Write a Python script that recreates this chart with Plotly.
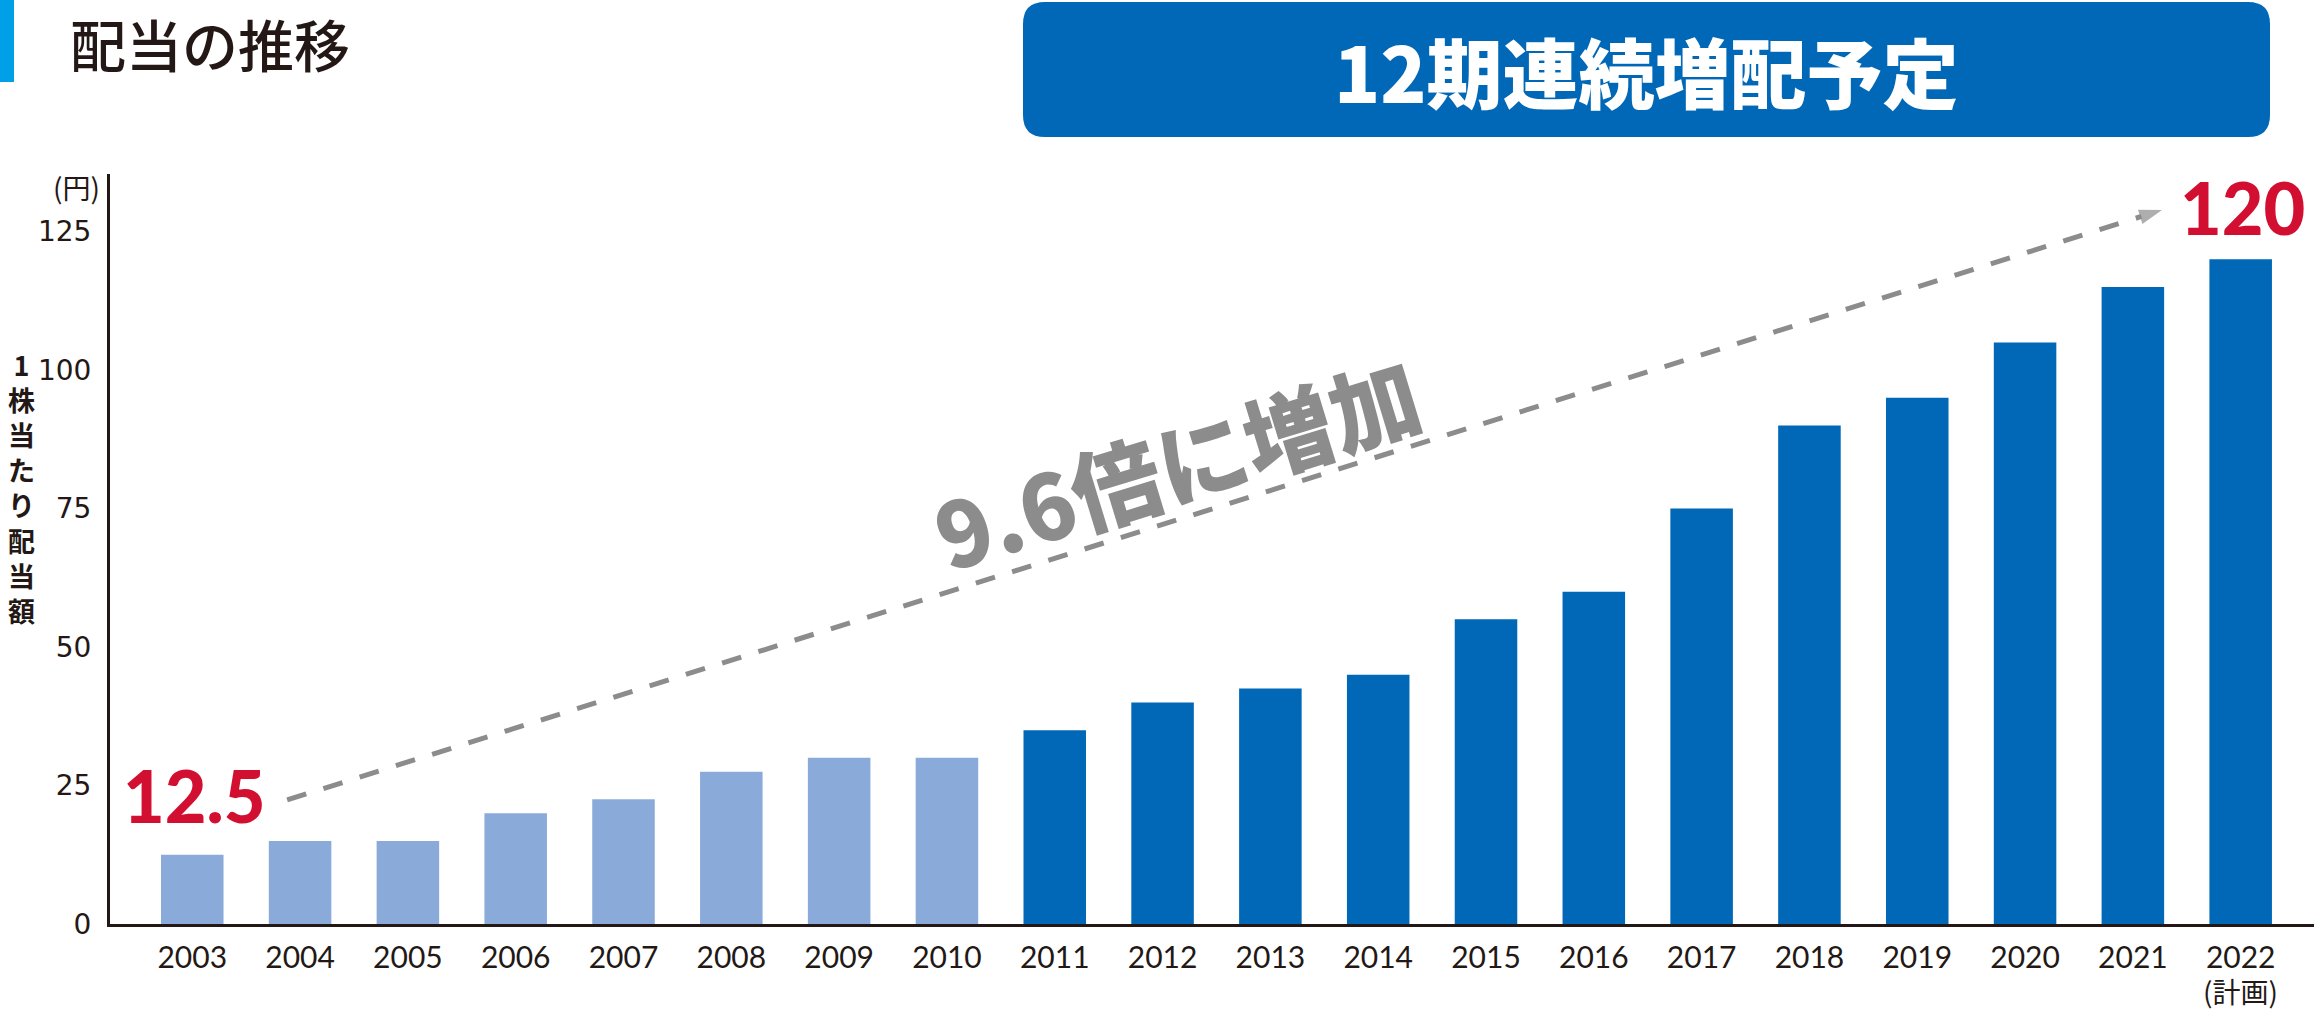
import plotly.graph_objects as go

years = [2003, 2004, 2005, 2006, 2007, 2008, 2009, 2010, 2011, 2012,
         2013, 2014, 2015, 2016, 2017, 2018, 2019, 2020, 2021, 2022]
dividends = [12.5, 15, 15, 20, 22.5, 27.5, 30, 30, 35, 40,
             42.5, 45, 55, 60, 75, 90, 95, 105, 115, 120]
tick_labels = [str(y) for y in years]
plan_note = "(計画)"
y_ticks = [0, 25, 50, 75, 100, 125]
y_title_chars = ["1", "株", "当", "た", "り", "配", "当", "額"]

LIGHT = "#8AABDA"
DARK = "#0068B6"
RED = "#D20F31"
GRAY = "#8C8C8C"
INK = "#231815"
CJK = "Noto Sans CJK JP"
NUM = "Lato, Noto Sans CJK JP"

bar_colors = [LIGHT if y <= 2010 else DARK for y in years]

# plot area in pixels
L, R, T, B = 110, 2314, 174, 924
def px(x):
    return (x - L) / (R - L)
def py(y):
    return (B - y) / (B - T)

fig = go.Figure()
fig.add_trace(go.Bar(
    x=years, y=dividends, width=0.58,
    marker=dict(color=bar_colors, line=dict(width=0)),
    hoverinfo="x+y", showlegend=False,
))

# dashed trend arrow
arrow_x = [2003.88, 2021.27]
arrow_y = [22.4, 128.9]
fig.add_trace(go.Scatter(
    x=arrow_x, y=arrow_y, mode="lines+markers",
    line=dict(color=GRAY, width=5, dash="20px,18px"),
    marker=dict(symbol="arrow", size=[0, 24], color=GRAY, angleref="previous",
                line=dict(width=0)),
    hoverinfo="skip", showlegend=False,
))

fig.update_layout(
    width=2314, height=1013,
    margin=dict(l=L, r=2314 - R, t=T, b=1013 - B),
    paper_bgcolor="white", plot_bgcolor="white",
    font=dict(family=NUM, color=INK),
    xaxis=dict(
        range=[2002.237, 2022.68], tickvals=years, ticktext=tick_labels,
        showgrid=False, zeroline=False, showline=True, linecolor=INK, linewidth=3,
        ticks="", tickfont=dict(size=30, family=NUM, color=INK),
        ticklabelstandoff=5, fixedrange=True, automargin=False,
    ),
    yaxis=dict(
        range=[0, 135.4], tickvals=y_ticks,
        showgrid=False, zeroline=False, showline=True, linecolor=INK, linewidth=3,
        ticks="", tickfont=dict(size=28, family="DejaVu Sans", color=INK),
        ticklabelstandoff=10, fixedrange=True, automargin=False,
    ),
    shapes=[
        dict(type="rect", xref="paper", yref="paper",
             x0=px(0), x1=px(14), y0=py(82), y1=py(0),
             fillcolor="#00A0E9", line=dict(width=0), layer="above"),
    ],
)

# rounded title box
bx0, bx1, by0, by1 = 1023, 2270, 2, 137
r = 22
rx = r / (R - L)
ry = r / (B - T)
X0, X1, Ytop, Ybot = px(bx0), px(bx1), py(by0), py(by1)
path = (f"M {X0+rx},{Ytop} L {X1-rx},{Ytop} Q {X1},{Ytop} {X1},{Ytop-ry} "
        f"L {X1},{Ybot+ry} Q {X1},{Ybot} {X1-rx},{Ybot} "
        f"L {X0+rx},{Ybot} Q {X0},{Ybot} {X0},{Ybot+ry} "
        f"L {X0},{Ytop-ry} Q {X0},{Ytop} {X0+rx},{Ytop} Z")
fig.add_shape(type="path", xref="paper", yref="paper", path=path,
              fillcolor="#0068B7", line=dict(width=0))

ann = [
    dict(text="配当の推移", xref="paper", yref="paper", x=px(68), y=py(42),
         xanchor="left", yanchor="middle", showarrow=False,
         font=dict(size=56, family=CJK, color=INK, weight=500)),
    dict(text="12期連続増配予定", xref="paper", yref="paper", x=px(1647), y=py(70),
         xanchor="center", yanchor="middle", showarrow=False,
         font=dict(size=76, family=CJK, color="white", weight=900)),
    dict(text="(円)", xref="paper", yref="paper", x=px(102), y=py(187),
         xanchor="right", yanchor="middle", showarrow=False,
         font=dict(size=28, family=CJK, color=INK)),
    dict(text=plan_note, x=years[-1], xref="x", yref="paper", y=py(991),
         xanchor="center", yanchor="middle", showarrow=False,
         font=dict(size=28, family=CJK, color=INK)),
    dict(text="12.5", x=years[0], y=dividends[0], yshift=60, xshift=2,
         xanchor="center", yanchor="middle", showarrow=False,
         font=dict(size=72, family=NUM, color=RED, weight=900)),
    dict(text="120", x=years[-1], y=dividends[-1], yshift=52, xshift=2,
         xanchor="center", yanchor="middle", showarrow=False,
         font=dict(size=72, family=NUM, color=RED, weight=900)),
    dict(text="9.6倍に増加", xref="paper", yref="paper", x=px(1176), y=py(462),
         xanchor="center", yanchor="middle", showarrow=False, textangle=-17,
         font=dict(size=90, family=CJK, color=GRAY, weight=900)),
    # vertical axis title, one character per line
    dict(text="<br>".join(y_title_chars), xref="paper", yref="paper",
         x=px(21), y=py(487), xanchor="center", yanchor="middle", showarrow=False,
         font=dict(size=27, family=CJK, color=INK, weight=700)),
]
fig.update_layout(annotations=ann)

fig.write_html("out.html", config={"displayModeBar": False})
